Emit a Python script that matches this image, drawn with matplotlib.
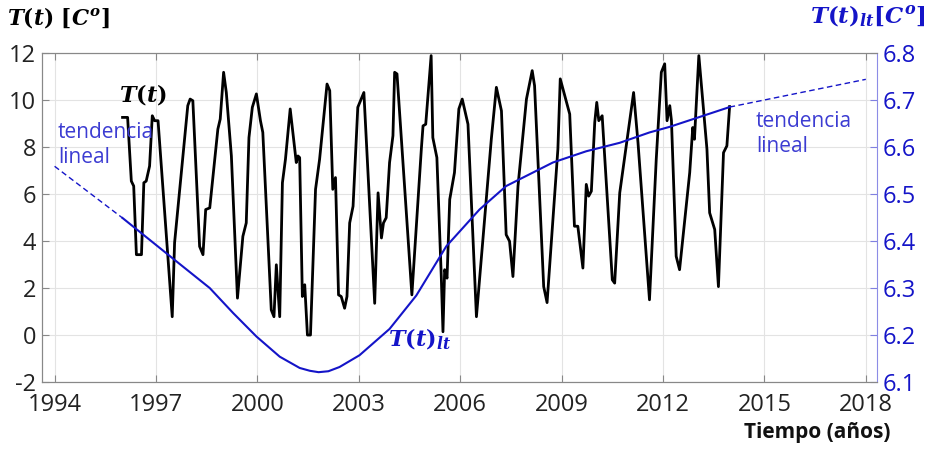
import numpy as np
import matplotlib.pyplot as plt

plt.rcParams['font.family'] = ['Open Sans', 'DejaVu Sans']
plt.rcParams['axes.unicode_minus'] = False
plt.rcParams['mathtext.fontset'] = 'custom'
plt.rcParams['mathtext.it'] = 'DejaVu Serif:italic:bold'
plt.rcParams['mathtext.rm'] = 'DejaVu Serif:bold'
plt.rcParams['mathtext.bf'] = 'DejaVu Serif:bold'

# temperatura mensual (vertices)
t_years = [1996.01, 1996.16, 1996.27, 1996.34, 1996.42, 1996.57, 1996.64, 1996.71, 1996.81, 1996.89,
           1996.96, 1997.06, 1997.48, 1997.55, 1997.94, 1998.01, 1998.09, 1998.29, 1998.39, 1998.47,
           1998.59, 1998.83, 1998.90, 1999.00, 1999.08, 1999.23, 1999.41, 1999.57, 1999.67, 1999.75,
           1999.85, 1999.97, 2000.09, 2000.16, 2000.41, 2000.49, 2000.56, 2000.66, 2000.74, 2000.83,
           2000.97, 2001.15, 2001.20, 2001.25, 2001.33, 2001.40, 2001.48, 2001.57, 2001.72, 2001.84,
           2002.06, 2002.14, 2002.23, 2002.31, 2002.40, 2002.48, 2002.58, 2002.65, 2002.73, 2002.83,
           2002.97, 2003.15, 2003.47, 2003.57, 2003.67, 2003.73, 2003.81, 2003.91, 2004.01, 2004.06,
           2004.13, 2004.57, 2004.85, 2004.90, 2004.98, 2005.14, 2005.19, 2005.31, 2005.44, 2005.49,
           2005.54, 2005.61, 2005.69, 2005.83, 2005.96, 2006.06, 2006.23, 2006.48, 2006.92, 2007.07,
           2007.22, 2007.36, 2007.46, 2007.56, 2007.71, 2007.96, 2008.13, 2008.20, 2008.47, 2008.57,
           2008.89, 2008.96, 2009.24, 2009.38, 2009.48, 2009.63, 2009.73, 2009.80, 2009.88, 2009.98,
           2010.04, 2010.10, 2010.20, 2010.50, 2010.57, 2010.72, 2011.13, 2011.26, 2011.60, 2011.80,
           2011.95, 2012.05, 2012.12, 2012.20, 2012.25, 2012.39, 2012.49, 2012.79, 2012.88, 2012.93,
           2013.06, 2013.30, 2013.38, 2013.53, 2013.64, 2013.79, 2013.89, 2013.97]
temp = [9.26, 9.26, 6.55, 6.34, 3.42, 3.42, 6.48, 6.55, 7.19, 9.33,
        9.12, 9.12, 0.78, 3.93, 9.76, 10.04, 9.97, 3.77, 3.42, 5.34,
        5.41, 8.76, 9.19, 11.18, 10.32, 7.62, 1.57, 4.20, 4.77, 8.40,
        9.69, 10.26, 9.12, 8.62, 1.07, 0.78, 2.99, 0.78, 6.48, 7.48,
        9.62, 7.34, 7.62, 7.55, 1.64, 2.14, 0.00, 0.00, 6.20, 7.48,
        10.68, 10.40, 6.20, 6.70, 1.71, 1.64, 1.14, 1.64, 4.77, 5.48,
        9.69, 10.32, 1.35, 6.05, 4.13, 4.77, 4.99, 7.34, 8.48, 11.18,
        11.11, 1.71, 7.91, 8.90, 8.97, 11.89, 8.40, 7.55, 2.49, 0.14,
        2.78, 2.42, 5.77, 6.91, 9.62, 10.04, 8.97, 0.78, 8.33, 10.54,
        9.54, 4.27, 3.99, 2.49, 6.34, 10.04, 11.25, 10.61, 2.06, 1.38,
        7.91, 10.90, 9.40, 4.63, 4.63, 2.85, 6.41, 5.91, 6.12, 9.04,
        9.90, 9.12, 9.33, 2.35, 2.21, 6.05, 10.32, 8.19, 1.50, 7.48,
        11.18, 11.54, 9.12, 9.76, 9.12, 3.35, 2.78, 6.91, 8.83, 8.33,
        11.89, 7.91, 5.20, 4.49, 2.06, 7.76, 8.05, 9.72]

# tendencia de largo plazo (eje derecho)
lt_years = [1996.01, 1997.60, 1998.59, 1999.28, 1999.97, 2000.66, 2001.25, 2001.55, 2001.81, 2002.10,
            2002.43, 2003.02, 2003.91, 2004.70, 2005.59, 2006.57, 2007.36, 2008.05, 2008.74, 2009.73,
            2010.72, 2011.60, 2012.20, 2013.97]
lt_vals = [6.449, 6.357, 6.300, 6.247, 6.197, 6.154, 6.130, 6.124, 6.121, 6.123,
           6.132, 6.157, 6.213, 6.284, 6.389, 6.467, 6.517, 6.542, 6.567, 6.591,
           6.609, 6.631, 6.643, 6.685]
trend_left_years = [1994.0, 1996.01]
trend_left_vals = [6.559, 6.449]
trend_right_years = [2013.97, 2018.0]
trend_right_vals = [6.685, 6.744]

blue = '#1414c8'
label_blue = '#3c3cd2'

fig = plt.figure(figsize=(9.28, 4.57), dpi=100)
ax = fig.add_axes([0.045, 0.164, 0.9, 0.72])
ax2 = ax.twinx()

ax.plot(t_years, temp, color='black', lw=2.0)
ax2.plot(lt_years, lt_vals, color=blue, lw=1.5)
ax2.plot(trend_left_years, trend_left_vals, color=blue, lw=1.0, ls=(0, (4, 2.5)))
ax2.plot(trend_right_years, trend_right_vals, color=blue, lw=1.0, ls=(0, (4, 2.5)))

ax.set_xlim(1993.62, 2018.33)
ax.set_ylim(-2, 12)
ax2.set_ylim(6.1, 6.8)
ax.set_xticks(np.arange(1994, 2019, 3))
ax.set_yticks(np.arange(-2, 13, 2))
ax2.set_yticks(np.arange(6.1, 6.81, 0.1))
ax2.set_yticklabels(['%.1f' % v for v in np.arange(6.1, 6.81, 0.1)])

ax.grid(True, color='#e3e3e3', lw=0.8)
ax.tick_params(axis='both', direction='in', labelsize=17, colors='#222222', length=5,
               top=True, width=0.8)
ax.tick_params(axis='x', pad=8, colors='#888888', labelcolor='#222222')
ax.tick_params(axis='y', pad=4, colors='#888888', labelcolor='#222222')
ax2.tick_params(axis='y', direction='in', labelsize=17, colors='#8080e0', labelcolor=blue,
                length=5, pad=4)
for s in ['left', 'bottom', 'top']:
    ax.spines[s].set_color('#888888')
    ax2.spines[s].set_color('#888888')
ax2.spines['right'].set_color('#8c8ce6')
ax.spines['right'].set_visible(False)

fig.text(0.008, 0.935, r'$T(t)\ [C^o]$', fontsize=15.5, color='black', va='bottom')
fig.text(0.997, 0.935, r'$T(t)_{lt}[C^o]$', fontsize=16.5, color=blue, va='bottom', ha='right')
ax.text(1996.6, 10.25, r'$T(t)$', fontsize=16, color='black', va='center', ha='center')
ax.text(2004.8, -0.2, r'$T(t)_{lt}$', fontsize=16, color=blue, va='center', ha='center')
ax.text(1994.1, 8.1, 'tendencia\nlineal', fontsize=15, color=label_blue, va='center',
        ha='left', linespacing=1.25)
ax.text(2014.75, 8.55, 'tendencia\nlineal', fontsize=15, color=label_blue, va='center',
        ha='left', linespacing=1.25)
fig.text(0.96, 0.03, 'Tiempo (años)', fontsize=15, fontweight='bold', color='#111111',
         ha='right', va='bottom')

fig.savefig('out.png', dpi=100)
